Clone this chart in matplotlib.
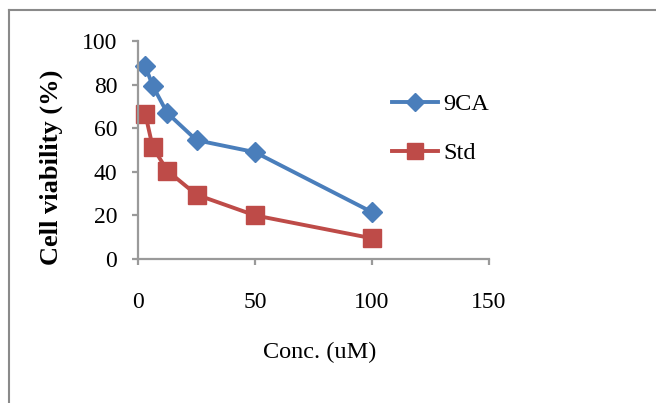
#!/usr/bin/env python3

# Cell viability chart: 9CA vs Std
import matplotlib
matplotlib.use("Agg")
import matplotlib.pyplot as plt
from matplotlib.lines import Line2D

# data
conc = [3.125, 6.25, 12.5, 25, 50, 100]
viab9CA = [88.5, 79.5, 67, 54.5, 49, 21.5]
viabStd = [66.5, 51.5, 40.5, 29.5, 20, 9.5]
xTicks = [0, 50, 100, 150]
yTicks = [0, 20, 40, 60, 80, 100]

plt.rcParams['font.family'] = ['Liberation Serif', 'DejaVu Serif']

W, H = 656, 403
fig = plt.figure(figsize=(W / 100, H / 100), dpi=100)
# axes box in pixels: x 138..489, y 41..259
ax = fig.add_axes([138 / W, 1 - 259 / H, 351 / W, 218 / H])

ax.plot(conc, viab9CA, color='#4A7EBB', linewidth=2.8, marker='D',
        markersize=10.5, label='9CA')
ax.plot(conc, viabStd, color='#BE4B48', linewidth=2.8, marker='s',
        markersize=13, label='Std')

ax.set_xlim(0, 150)
ax.set_ylim(0, 100)
ax.set_xticks(xTicks)
ax.set_yticks(yTicks)
ax.tick_params(axis='both', labelsize=17, color='#9a9a9a', length=4,
               width=1.6, direction='out')
ax.tick_params(axis='x', pad=20)
ax.tick_params(axis='y', pad=11)
for side in ['top', 'right']:
    ax.spines[side].set_visible(False)
for side in ['left', 'bottom']:
    ax.spines[side].set_color('#9a9a9a')
    ax.spines[side].set_linewidth(1.6)
for ln in ax.lines:
    ln.set_clip_on(False)

ax.set_xlabel('Conc. (uM)', fontsize=17.5)
ax.set_ylabel('Cell viability (%)', fontsize=19, fontweight='bold')
ax.xaxis.set_label_coords(0.517, -0.38)
ax.yaxis.set_label_coords(-0.215, 0.42)

ax.legend(loc='upper left', bbox_to_anchor=(392 / W, 1 - 93 / H),
          bbox_transform=fig.transFigure, frameon=False, fontsize=17.5,
          handlelength=1.9, handletextpad=0.2, labelspacing=1.12,
          borderpad=0, borderaxespad=0, markerscale=0.9)

# outer chart border (top and left edges visible)
fig.add_artist(Line2D([8.5 / W, 1], [1 - 9.5 / H, 1 - 9.5 / H],
                      transform=fig.transFigure, color='#8a8a8a', lw=1.5))
fig.add_artist(Line2D([8.5 / W, 8.5 / W], [0, 1 - 9.5 / H],
                      transform=fig.transFigure, color='#8a8a8a', lw=1.5))

fig.savefig('out.png', dpi=100)
